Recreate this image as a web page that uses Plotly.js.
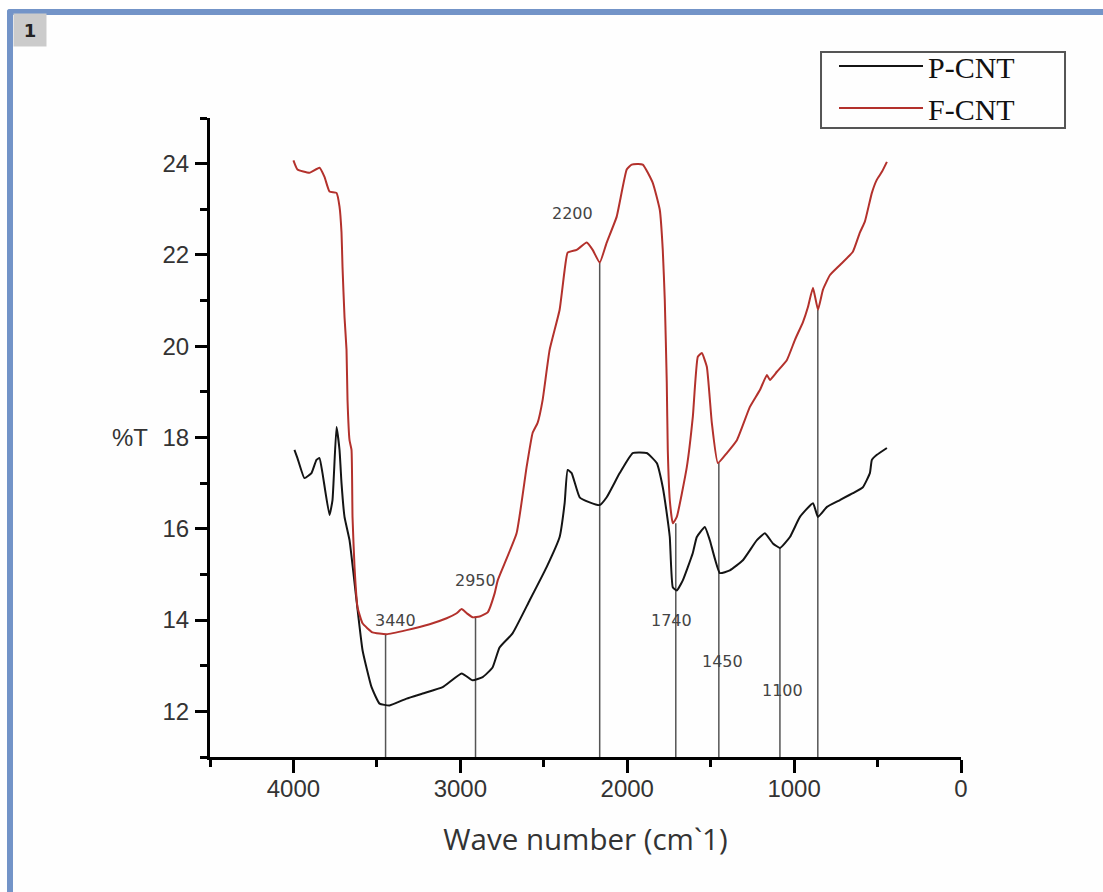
<!DOCTYPE html>
<html>
<head>
<meta charset="utf-8">
<script src="https://cdn.plot.ly/plotly-3.0.1.min.js"></script>
<style>
  html, body { margin: 0; padding: 0; background: #ffffff; }
  #frame { position: absolute; left: 7px; top: 9px; width: 1096px; height: 883px;
           border-top: 6px solid #7394c8; border-left: 6px solid #7394c8;
           border-top-left-radius: 3px; box-sizing: border-box; background: #fefefe; }
  #chart { position: absolute; left: 0; top: 0; width: 1103px; height: 892px; }
</style>
</head>
<body>
<div id="frame"></div>
<div id="chart"></div>
<script>
// F-CNT (red) spectrum
const wnF = [4000, 3976, 3904, 3844, 3814, 3784, 3742, 3724, 3712, 3706, 3694, 3682, 3676, 3664, 3652, 3646, 3634, 3616, 3586, 3526, 3442, 3322, 3184, 3082, 3022, 2992, 2962, 2926, 2884, 2836, 2794, 2776, 2663, 2603, 2567, 2537, 2507, 2465, 2405, 2375, 2357, 2303, 2243, 2207, 2165, 2123, 2063, 2003, 1973, 1907, 1847, 1805, 1787, 1775, 1763, 1757, 1745, 1727, 1703, 1643, 1607, 1577, 1553, 1523, 1493, 1457, 1403, 1343, 1265, 1205, 1163, 1145, 1103, 1043, 995, 947, 917, 887, 857, 827, 785, 725, 648, 606, 576, 534, 504, 474, 444];
const tF = [24.07, 23.87, 23.80, 23.91, 23.71, 23.39, 23.36, 23.06, 22.49, 21.74, 20.64, 19.92, 18.82, 17.94, 17.73, 16.26, 15.16, 14.28, 13.93, 13.73, 13.69, 13.78, 13.91, 14.04, 14.15, 14.24, 14.15, 14.06, 14.08, 14.17, 14.59, 14.87, 15.90, 17.35, 18.10, 18.32, 18.82, 19.92, 20.80, 21.67, 22.05, 22.11, 22.27, 22.11, 21.83, 22.27, 22.84, 23.87, 23.98, 23.98, 23.58, 22.99, 22.11, 21.02, 19.20, 17.73, 16.63, 16.12, 16.26, 17.35, 18.45, 19.77, 19.85, 19.55, 18.32, 17.44, 17.66, 17.94, 18.67, 19.04, 19.37, 19.26, 19.44, 19.70, 20.14, 20.53, 20.86, 21.28, 20.80, 21.24, 21.56, 21.78, 22.07, 22.49, 22.73, 23.36, 23.65, 23.82, 24.04];

// P-CNT (black) spectrum
const wnP = [3994, 3976, 3934, 3892, 3862, 3844, 3826, 3784, 3766, 3742, 3724, 3712, 3694, 3664, 3622, 3586, 3532, 3484, 3424, 3322, 3226, 3106, 2992, 2926, 2866, 2807, 2765, 2687, 2585, 2483, 2405, 2375, 2357, 2333, 2285, 2225, 2165, 2123, 2045, 1967, 1883, 1823, 1787, 1763, 1745, 1727, 1703, 1667, 1607, 1583, 1535, 1505, 1445, 1385, 1307, 1223, 1175, 1127, 1085, 1025, 965, 887, 857, 803, 725, 648, 588, 546, 534, 504, 444];
const tP = [17.73, 17.55, 17.11, 17.22, 17.51, 17.55, 17.22, 16.30, 16.63, 18.23, 17.73, 17.00, 16.26, 15.75, 14.43, 13.34, 12.53, 12.17, 12.13, 12.28, 12.39, 12.53, 12.83, 12.68, 12.75, 12.96, 13.40, 13.71, 14.43, 15.16, 15.82, 16.56, 17.29, 17.22, 16.69, 16.58, 16.52, 16.69, 17.22, 17.66, 17.66, 17.44, 16.91, 16.34, 15.82, 14.72, 14.65, 14.87, 15.47, 15.82, 16.04, 15.75, 15.03, 15.09, 15.31, 15.75, 15.90, 15.68, 15.58, 15.82, 16.26, 16.56, 16.26, 16.48, 16.63, 16.78, 16.91, 17.22, 17.51, 17.62, 17.77];

// Marker lines (wavenumber, top of line)
const markX = [3448, 2909, 2165, 1709, 1451, 1085, 858];
const markTop = [13.69, 14.07, 21.83, 16.12, 17.44, 15.58, 20.80];

// Peak labels
const peakText = ['3440', '2950', '2200', '1740', '1450', '1100'];
const peakX = [3388, 2909, 2327, 1733, 1427, 1067];
const peakY = [14.0, 14.87, 22.9, 14.0, 13.1, 12.46];

const traces = [
  { x: wnP, y: tP, type: 'scatter', mode: 'lines', name: 'P-CNT',
    line: { color: '#141414', width: 2, shape: 'spline', smoothing: 0.4 } },
  { x: wnF, y: tF, type: 'scatter', mode: 'lines', name: 'F-CNT',
    line: { color: '#b3312c', width: 2, shape: 'spline', smoothing: 0.4 } }
];

const shapes = markX.map((v, i) => ({
  type: 'line', xref: 'x', yref: 'y', x0: v, x1: v, y0: 11, y1: markTop[i],
  line: { color: '#555555', width: 1.5 }, layer: 'below'
}));
// legend frame
shapes.push({
  type: 'rect', xref: 'paper', yref: 'paper', x0: 0.8136, x1: 1.1385, y0: 0.9844, y1: 1.1033,
  line: { color: '#555555', width: 2 }, fillcolor: 'rgba(0,0,0,0)'
});

const annotations = peakText.map((t, i) => ({
  x: peakX[i], y: peakY[i], xref: 'x', yref: 'y', text: t, showarrow: false,
  font: { family: 'DejaVu Sans', size: 16, color: '#444444' }
}));

annotations.push({
  x: -0.1065, y: 0.5, xref: 'paper', yref: 'paper', text: '%T', showarrow: false,
  xanchor: 'center', yanchor: 'middle',
  font: { family: 'Liberation Sans', size: 24, color: '#333333' }
});
annotations.push({
  x: -0.2397, y: 1.137, xref: 'paper', yref: 'paper', text: '<b>1</b>', showarrow: false,
  xanchor: 'center', yanchor: 'middle', width: 30, height: 30, bgcolor: '#cbcbcb',
  font: { family: 'DejaVu Sans', size: 18, color: '#222222' }
});

const layout = {
  width: 1103, height: 892,
  margin: { l: 210, r: 142, t: 118, b: 135 },
  paper_bgcolor: 'rgba(0,0,0,0)', plot_bgcolor: 'rgba(0,0,0,0)',
  showlegend: true,
  legend: {
    x: 0.8309, y: 1.1221, xanchor: 'left', yanchor: 'top',
    borderwidth: 0, bgcolor: 'rgba(255,255,255,0)',
    font: { family: 'Liberation Serif', size: 30, color: '#111111' },
    itemwidth: 84, tracegroupgap: 0
  },
  xaxis: {
    range: [4500, 0], tickmode: 'linear', tick0: 0, dtick: 1000,
    showgrid: false, zeroline: false, showline: true, linecolor: '#000', linewidth: 3,
    ticks: 'outside', ticklen: 13, tickwidth: 3, tickcolor: '#000',
    minor: { dtick: 500, tick0: 0, ticks: 'outside', ticklen: 7, tickwidth: 3, tickcolor: '#000', showgrid: false },
    tickfont: { family: 'Liberation Sans', size: 24, color: '#333333' },
    ticklabelstandoff: -5,
    title: { text: 'Wave number (cm`1)', standoff: 29,
             font: { family: 'Open Sans', size: 29.5, color: '#333333' } }
  },
  yaxis: {
    range: [11, 25], tickmode: 'array', tickvals: [12, 14, 16, 18, 20, 22, 24],
    showgrid: false, zeroline: false, showline: true, linecolor: '#000', linewidth: 3,
    ticks: 'outside', ticklen: 12, tickwidth: 3, tickcolor: '#000',
    minor: { dtick: 1, tick0: 11, ticks: 'outside', ticklen: 7, tickwidth: 3, tickcolor: '#000', showgrid: false },
    tickfont: { family: 'Liberation Sans', size: 24, color: '#333333' },
    ticklabelstandoff: 1
  },
  shapes: shapes,
  annotations: annotations
};

Plotly.newPlot('chart', traces, layout, { displayModeBar: false, staticPlot: true });
</script>
</body>
</html>
